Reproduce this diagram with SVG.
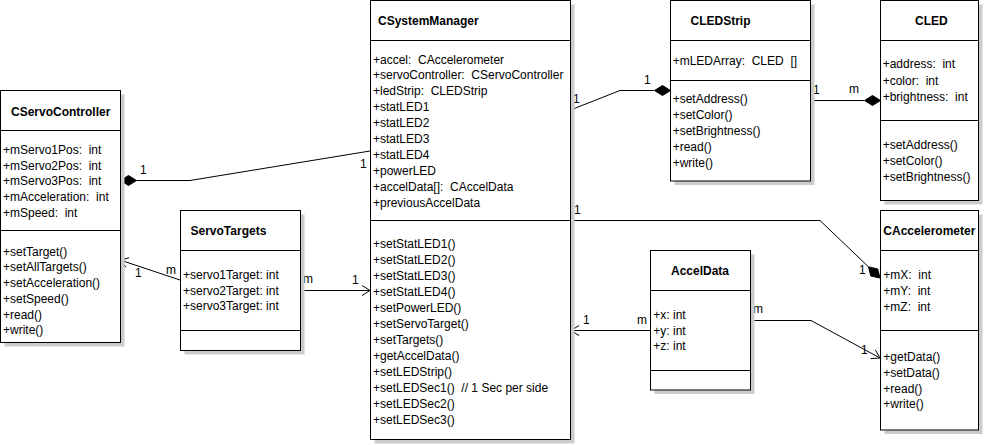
<svg xmlns="http://www.w3.org/2000/svg" width="985" height="445" viewBox="0 0 985 445">
<style>
  .bg { fill: #ffffff; }
  .shadow { fill: #cccccc; }
  .box { fill: #ffffff; stroke: #000000; stroke-width: 1; }
  .div { stroke: #000000; stroke-width: 1; }
  .t { font-family: "Liberation Sans", Arial, sans-serif; font-size: 12px; fill: #000000; white-space: pre; }
  .b { font-weight: bold; }
  .ln { fill: none; stroke: #000000; stroke-width: 1; }
  .dia { fill: #000000; stroke: #000000; stroke-width: 1; }
</style>
<rect class="bg" x="0" y="0" width="985" height="445"/>

<!-- connectors -->
<g id="connectors">
  <!-- CSystemManager composes CServoController -->
  <polyline class="ln" points="370,151 190,180.5 136,180.5"/>
  <polygon class="dia" points="120.5,180.5 128.5,175.5 136.5,180.5 128.5,185.5"/>
  <text class="t" x="140" y="174">1</text>
  <text class="t" x="360" y="168">1</text>

  <!-- ServoTargets to CServoController -->
  <line class="ln" x1="180" y1="280" x2="120" y2="260"/>
  <polyline class="ln" points="129.2,257.8 120,260 126,267.3"/>
  <text class="t" x="135" y="277">1</text>
  <text class="t" x="166" y="274">m</text>

  <!-- ServoTargets to CSystemManager -->
  <line class="ln" x1="300.5" y1="290.5" x2="370" y2="290.5"/>
  <polyline class="ln" points="362,285.5 370,290.5 362,295.5"/>
  <text class="t" x="303" y="283">m</text>
  <text class="t" x="352" y="283.5">1</text>

  <!-- CSystemManager composes CLEDStrip -->
  <polyline class="ln" points="570.5,110 620,90.5 654,90.5"/>
  <polygon class="dia" points="670.5,90.5 662.5,85.5 654.5,90.5 662.5,95.5"/>
  <text class="t" x="573" y="103">1</text>
  <text class="t" x="644" y="83.5">1</text>

  <!-- CLEDStrip composes CLED -->
  <line class="ln" x1="810.5" y1="100.5" x2="864" y2="100.5"/>
  <polygon class="dia" points="880.5,100.5 872.5,95.5 864.5,100.5 872.5,105.5"/>
  <text class="t" x="813" y="93.5">1</text>
  <text class="t" x="849" y="93">m</text>

  <!-- CSystemManager composes CAccelerometer -->
  <polyline class="ln" points="570.5,220.5 820,220.5 868.5,266.9"/>
  <polygon class="dia" points="880,278 877.7,268.9 868.5,266.9 870.8,276"/>
  <text class="t" x="574" y="213.5">1</text>
  <text class="t" x="859" y="274">1</text>

  <!-- AccelData to CSystemManager -->
  <line class="ln" x1="650.5" y1="330.5" x2="571" y2="330.5"/>
  <polyline class="ln" points="579,325.5 571,330.5 579,335.5"/>
  <text class="t" x="583" y="323.5">1</text>
  <text class="t" x="637" y="323.5">m</text>

  <!-- AccelData to CAccelerometer -->
  <polyline class="ln" points="750.5,320.5 811,320.5 880,358"/>
  <polyline class="ln" points="870.6,358.6 880,358 875.3,349.8"/>
  <text class="t" x="753" y="312.5">m</text>
  <text class="t" x="861" y="353.5">1</text>
</g>

<!-- CServoController -->
<g id="CServoController">
  <rect class="shadow" x="4.5" y="94.5" width="120" height="252"/>
  <rect class="box" x="0.5" y="90.5" width="120" height="252"/>
  <line class="div" x1="0.5" y1="130.5" x2="120.5" y2="130.5"/>
  <line class="div" x1="0.5" y1="230.5" x2="120.5" y2="230.5"/>
  <text class="t b" x="11" y="116">CServoController</text>
  <text class="t" x="3" y="154">+mServo1Pos:  int</text>
  <text class="t" x="3" y="169.7">+mServo2Pos:  int</text>
  <text class="t" x="3" y="185.4">+mServo3Pos:  int</text>
  <text class="t" x="3" y="201.1">+mAcceleration:  int</text>
  <text class="t" x="3" y="216.8">+mSpeed:  int</text>
  <text class="t" x="3" y="255.7">+setTarget()</text>
  <text class="t" x="3" y="271.4">+setAllTargets()</text>
  <text class="t" x="3" y="287.1">+setAcceleration()</text>
  <text class="t" x="3" y="302.8">+setSpeed()</text>
  <text class="t" x="3" y="318.5">+read()</text>
  <text class="t" x="3" y="334.2">+write()</text>
</g>

<!-- ServoTargets -->
<g id="ServoTargets">
  <rect class="shadow" x="184.5" y="214.5" width="120" height="140"/>
  <rect class="box" x="180.5" y="210.5" width="120" height="140"/>
  <line class="div" x1="180.5" y1="250.5" x2="300.5" y2="250.5"/>
  <line class="div" x1="180.5" y1="330.5" x2="300.5" y2="330.5"/>
  <text class="t b" x="190.5" y="235">ServoTargets</text>
  <text class="t" x="183" y="279">+servo1Target: int</text>
  <text class="t" x="183" y="294.7">+servo2Target: int</text>
  <text class="t" x="183" y="310.4">+servo3Target: int</text>
</g>

<!-- CSystemManager -->
<g id="CSystemManager">
  <rect class="shadow" x="374.5" y="4.5" width="200" height="439"/>
  <rect class="box" x="370.5" y="0.5" width="200" height="439"/>
  <line class="div" x1="370.5" y1="40.5" x2="570.5" y2="40.5"/>
  <line class="div" x1="370.5" y1="220.5" x2="570.5" y2="220.5"/>
  <text class="t b" x="378" y="25">CSystemManager</text>
  <text class="t" x="373" y="63.5">+accel:  CAccelerometer</text>
  <text class="t" x="373" y="79.4">+servoController:  CServoController</text>
  <text class="t" x="373" y="95.4">+ledStrip:  CLEDStrip</text>
  <text class="t" x="373" y="111.3">+statLED1</text>
  <text class="t" x="373" y="127.2">+statLED2</text>
  <text class="t" x="373" y="143.2">+statLED3</text>
  <text class="t" x="373" y="159.1">+statLED4</text>
  <text class="t" x="373" y="175">+powerLED</text>
  <text class="t" x="373" y="191">+accelData[]:  CAccelData</text>
  <text class="t" x="373" y="206.9">+previousAccelData</text>
  <text class="t" x="373" y="247.5">+setStatLED1()</text>
  <text class="t" x="373" y="263.6">+setStatLED2()</text>
  <text class="t" x="373" y="279.6">+setStatLED3()</text>
  <text class="t" x="373" y="295.7">+setStatLED4()</text>
  <text class="t" x="373" y="311.7">+setPowerLED()</text>
  <text class="t" x="373" y="327.8">+setServoTarget()</text>
  <text class="t" x="373" y="343.9">+setTargets()</text>
  <text class="t" x="373" y="359.9">+getAccelData()</text>
  <text class="t" x="373" y="376">+setLEDStrip()</text>
  <text class="t" x="373" y="392">+setLEDSec1()  // 1 Sec per side</text>
  <text class="t" x="373" y="408.1">+setLEDSec2()</text>
  <text class="t" x="373" y="424.2">+setLEDSec3()</text>
</g>

<!-- CLEDStrip -->
<g id="CLEDStrip">
  <rect class="shadow" x="674.5" y="4.5" width="140" height="180.5"/>
  <rect class="box" x="670.5" y="0.5" width="140" height="180.5"/>
  <line class="div" x1="670.5" y1="40.5" x2="810.5" y2="40.5"/>
  <line class="div" x1="670.5" y1="80.5" x2="810.5" y2="80.5"/>
  <text class="t b" x="690.5" y="25">CLEDStrip</text>
  <text class="t" x="672.7" y="64.7">+mLEDArray:  CLED  []</text>
  <text class="t" x="672.7" y="103">+setAddress()</text>
  <text class="t" x="672.7" y="119">+setColor()</text>
  <text class="t" x="672.7" y="135">+setBrightness()</text>
  <text class="t" x="672.7" y="150.8">+read()</text>
  <text class="t" x="672.7" y="166.7">+write()</text>
</g>

<!-- CLED -->
<g id="CLED">
  <rect class="shadow" x="884.5" y="4.5" width="98" height="200"/>
  <rect class="box" x="880.5" y="0.5" width="98" height="200"/>
  <line class="div" x1="880.5" y1="40.5" x2="978.5" y2="40.5"/>
  <line class="div" x1="880.5" y1="120.5" x2="978.5" y2="120.5"/>
  <text class="t b" x="915" y="25">CLED</text>
  <text class="t" x="882.7" y="68">+address:  int</text>
  <text class="t" x="882.7" y="84.5">+color:  int</text>
  <text class="t" x="882.7" y="101">+brightness:  int</text>
  <text class="t" x="882.7" y="149">+setAddress()</text>
  <text class="t" x="882.7" y="165">+setColor()</text>
  <text class="t" x="882.7" y="180.7">+setBrightness()</text>
</g>

<!-- AccelData -->
<g id="AccelData">
  <rect class="shadow" x="654.5" y="254.5" width="100" height="139.5"/>
  <rect class="box" x="650.5" y="250.5" width="100" height="139.5"/>
  <line class="div" x1="650.5" y1="290.5" x2="750.5" y2="290.5"/>
  <line class="div" x1="650.5" y1="370.5" x2="750.5" y2="370.5"/>
  <text class="t b" x="671" y="275">AccelData</text>
  <text class="t" x="653.3" y="319">+x: int</text>
  <text class="t" x="653.3" y="334.5">+y: int</text>
  <text class="t" x="653.3" y="350">+z: int</text>
</g>

<!-- CAccelerometer -->
<g id="CAccelerometer">
  <rect class="shadow" x="884.5" y="214.5" width="98" height="219.5"/>
  <rect class="box" x="880.5" y="210.5" width="98" height="219.5"/>
  <line class="div" x1="880.5" y1="250.5" x2="978.5" y2="250.5"/>
  <line class="div" x1="880.5" y1="330.5" x2="978.5" y2="330.5"/>
  <text class="t b" x="883.3" y="235">CAccelerometer</text>
  <text class="t" x="883.3" y="279">+mX:  int</text>
  <text class="t" x="883.3" y="295">+mY:  int</text>
  <text class="t" x="883.3" y="311">+mZ:  int</text>
  <text class="t" x="883.3" y="360.7">+getData()</text>
  <text class="t" x="883.3" y="376.5">+setData()</text>
  <text class="t" x="883.3" y="392.5">+read()</text>
  <text class="t" x="883.3" y="408">+write()</text>
</g>
</svg>
